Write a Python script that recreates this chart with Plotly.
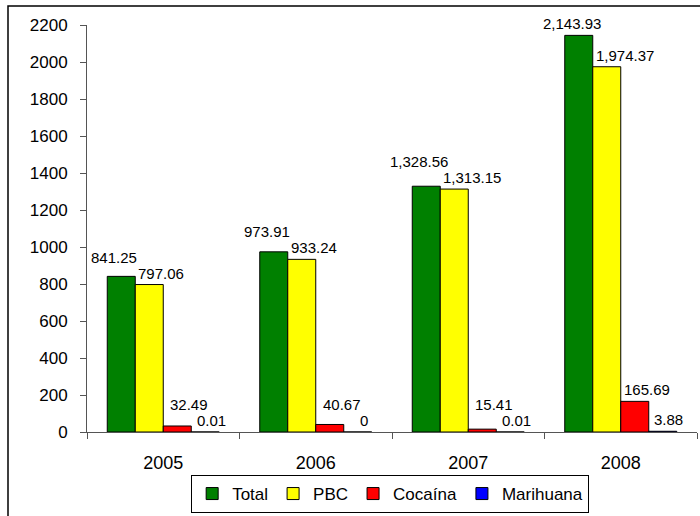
import plotly.graph_objects as go

years = ["2005", "2006", "2007", "2008"]
series_names = ["Total", "PBC", "Cocaína", "Marihuana"]
total = [841.25, 973.91, 1328.56, 2143.93]
pbc = [797.06, 933.24, 1313.15, 1974.37]
cocaina = [32.49, 40.67, 15.41, 165.69]
marihuana = [0.01, 0.0, 0.01, 3.88]
y_ticks = list(range(0, 2201, 200))

values = [total, pbc, cocaina, marihuana]
colors = ["#008000", "#FFFF00", "#FF0000", "#0000FF"]

FONT = "Liberation Sans, Arial, sans-serif"
W, H = 700, 516
ML, MR, MT, MB = 87, 3, 25, 84
plot_w = W - ML - MR
plot_h = H - MT - MB
YMAX = 2200
BARGAP = 0.2656

fig = go.Figure()
for name, vals, col in zip(series_names, values, colors):
    fig.add_trace(go.Bar(
        x=years, y=vals, name=name,
        marker=dict(color=col, line=dict(color="black", width=1)),
    ))


def fmt(v):
    return "0" if v == 0 else f"{v:,.2f}"


# label placement (Excel-like, staggered to avoid overlaps)
cat_w = plot_w / len(years)
bar_w = cat_w * (1 - BARGAP) / 4
centers = [(-1.5 + i) * bar_w for i in range(4)]
px_per_unit = plot_h / YMAX
gap = 1
step = 16
anchors = ["center", "left", "center", "center"]
xoffs = [centers[0] - 7, centers[1] - bar_w / 2 + 1, centers[2] + 12, centers[3] + 6]

annotations = []
for j, yr in enumerate(years):
    bottoms = [0] * 4
    for s in range(3, -1, -1):
        px = values[s][j] * px_per_unit
        b = px + gap
        if s < 3:
            b = max(b, bottoms[s + 1] + step)
        bottoms[s] = b
    for s in range(4):
        v = values[s][j]
        annotations.append(dict(
            x=j, y=v, xref="x", yref="y",
            text=fmt(v), showarrow=False,
            xanchor=anchors[s], yanchor="bottom",
            xshift=xoffs[s], yshift=bottoms[s] - v * px_per_unit,
            font=dict(family=FONT, size=15, color="black"),
        ))

legend_top_px = 475
fig.update_layout(
    width=W, height=H,
    margin=dict(l=ML, r=MR, t=MT, b=MB, pad=0),
    paper_bgcolor="white", plot_bgcolor="white",
    barmode="group", bargap=BARGAP, bargroupgap=0,
    font=dict(family=FONT, color="black"),
    showlegend=True,
    legend=dict(
        orientation="h", x=0.497, xanchor="center",
        y=-(legend_top_px - (H - MB)) / plot_h, yanchor="top",
        bordercolor="black", borderwidth=1, bgcolor="white",
        font=dict(family=FONT, size=17, color="black"),
        itemwidth=30, tracegroupgap=0,
    ),
    annotations=annotations,
    shapes=[dict(
        type="rect", xref="paper", yref="paper",
        x0=(8 - ML) / plot_w, x1=(W + 10 - ML) / plot_w,
        y0=-(H + 10 - (H - MB)) / plot_h, y1=((H - MB) - 6) / plot_h,
        line=dict(color="black", width=1.5), fillcolor="rgba(0,0,0,0)",
        layer="below",
    )],
)

fig.update_xaxes(
    type="category", range=[-0.5, len(years) - 0.5],
    showgrid=False, zeroline=False,
    showline=True, linecolor="#555555", linewidth=1,
    ticks="outside", tickson="boundaries", ticklen=6, tickcolor="#555555",
    tickfont=dict(family=FONT, size=18, color="black"),
    ticklabelstandoff=14, tickangle=0,
)
fig.update_yaxes(
    range=[0, YMAX], tickvals=y_ticks, showgrid=False, zeroline=False,
    showline=True, linecolor="#555555", linewidth=1,
    ticks="outside", ticklen=6, tickcolor="#555555",
    tickfont=dict(family=FONT, size=17, color="black"),
    ticklabelstandoff=9,
)

fig.write_html("out.html", config={"displayModeBar": False},
               post_script="document.body.style.margin='0px';")
